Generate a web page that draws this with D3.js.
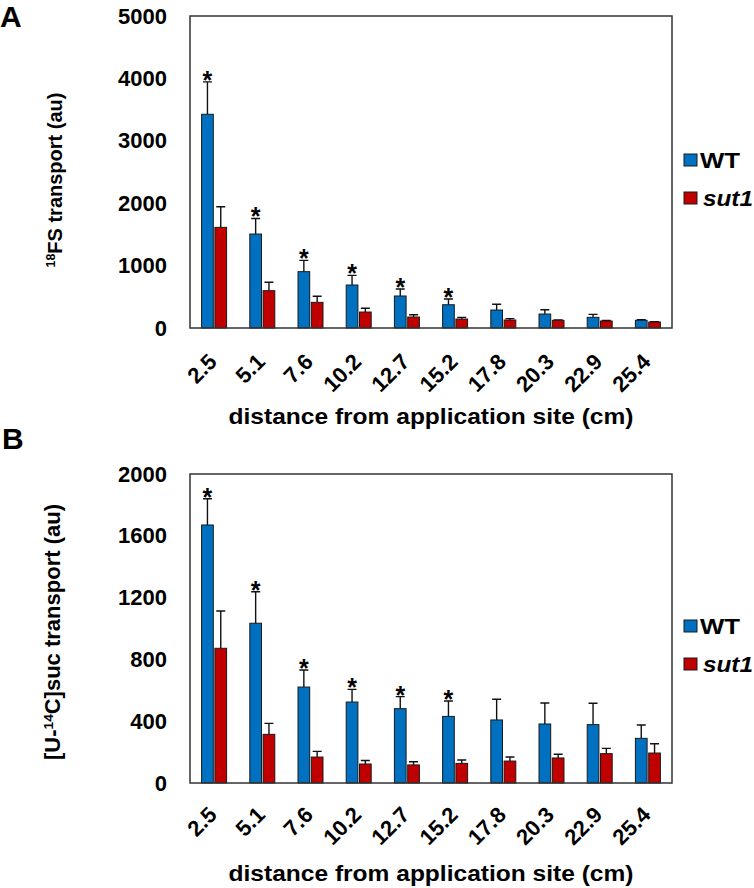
<!DOCTYPE html>
<html>
<head>
<meta charset="utf-8">
<script src="https://cdn.jsdelivr.net/npm/d3@7/dist/d3.min.js"></script>
<style>
  body { margin: 0; background: #fff; }
  svg { display: block; font-family: "Liberation Sans", Arial, sans-serif; }
</style>
</head>
<body>
<svg id="chart" width="754" height="888"></svg>
<script>
const categories = ["2.5","5.1","7.6","10.2","12.7","15.2","17.8","20.3","22.9","25.4"];
const seriesNames = ["WT", "sut1"];

const aWT      = [3425,1506,903,689,513,373,288,224,171,123];
const aWTErr   = [520,250,180,155,112,92,92,69,48,10];
const aSut1    = [1613,598,411,256,176,144,128,123,112,96];
const aSut1Err = [330,135,97,60,37,27,22,8,8,6];
const aSig     = [1,1,1,1,1,1,0,0,0,0];
const aTicks   = [0,1000,2000,3000,4000,5000];

const bWT      = [1670,1034,621,524,481,431,408,382,378,289];
const bWTErr   = [170,204,110,82,78,100,134,136,138,86];
const bSut1    = [872,315,168,123,117,127,142,162,190,194];
const bSut1Err = [241,71,37,23,21,22,26,24,34,60];
const bSig     = [1,1,1,1,1,1,0,0,0,0];
const bTicks   = [0,400,800,1200,1600,2000];

const colors = { WT: "#0070C0", sut1: "#C00000" };
const svg = d3.select("#chart");

function panel(o) {
  const g = svg.append("g");
  const x0 = d3.scaleBand().domain(categories).range([o.left, o.right]).paddingInner(0).paddingOuter(0);
  const x1 = d3.scaleBand().domain(seriesNames).range([0, x0.bandwidth()]).paddingInner(0.12).paddingOuter(0.872);
  const y = d3.scaleLinear().domain([0, o.ticks[o.ticks.length - 1]]).range([o.bottom, o.top]);

  const rows = categories.map((c, i) => ({
    c, i,
    vals: [
      { s: "WT", v: o.wt[i], e: o.wtErr[i] },
      { s: "sut1", v: o.sut1[i], e: o.sut1Err[i] }
    ]
  }));

  const grp = g.selectAll("g.cat").data(rows).join("g").attr("class", "cat")
    .attr("transform", d => `translate(${x0(d.c)},0)`);
  grp.selectAll("path.err").data(d => d.vals).join("path").attr("class", "err")
    .attr("d", d => {
      const cx = x1(d.s) + x1.bandwidth() / 2;
      return `M${cx},${y(d.v)}V${y(d.v + d.e)}M${cx - 4.5},${y(d.v + d.e)}H${cx + 4.5}`;
    })
    .attr("stroke", "#111").attr("stroke-width", 1.4).attr("fill", "none");
  grp.selectAll("rect").data(d => d.vals).join("rect")
    .attr("x", d => x1(d.s))
    .attr("width", x1.bandwidth())
    .attr("y", d => y(d.v))
    .attr("height", d => y(0) - y(d.v))
    .attr("fill", d => colors[d.s])
    .attr("stroke", "#1a1a1a").attr("stroke-width", 1);

  grp.filter(d => o.sig[d.i]).append("text")
    .attr("x", x1("WT") + x1.bandwidth() / 2)
    .attr("y", d => y(d.vals[0].v + d.vals[0].e) + 7)
    .attr("text-anchor", "middle")
    .attr("font-size", 25).attr("font-weight", "bold")
    .text("*");

  g.append("rect").attr("x", o.left).attr("y", o.top)
    .attr("width", o.right - o.left).attr("height", o.bottom - o.top)
    .attr("fill", "none").attr("stroke", "#333").attr("stroke-width", 1.5);

  const ya = g.append("g").attr("transform", `translate(${o.left},0)`)
    .call(d3.axisLeft(y).tickValues(o.ticks).tickSize(0).tickPadding(23).tickFormat(d3.format("d")));
  ya.select(".domain").remove();
  ya.selectAll("text").attr("font-size", 22).attr("font-weight", "bold").attr("fill", "#000")
    .attr("font-family", "'Liberation Sans', Arial, sans-serif");

  const xa = g.append("g").attr("transform", `translate(0,${o.bottom})`)
    .call(d3.axisBottom(x0).tickSize(0).tickPadding(0));
  xa.select(".domain").remove();
  xa.selectAll("text")
    .attr("font-size", 22).attr("font-weight", "bold").attr("fill", "#000")
    .attr("font-family", "'Liberation Sans', Arial, sans-serif")
    .attr("text-anchor", "end")
    .attr("dy", null).attr("y", null)
    .attr("transform", `translate(4,${o.xlabDy}) rotate(-45)`);

  g.append("text").attr("x", (o.left + o.right) / 2).attr("y", o.xTitleY)
    .attr("text-anchor", "middle").attr("font-size", 22).attr("font-weight", "bold")
    .attr("textLength", 405).attr("lengthAdjust", "spacingAndGlyphs")
    .text("distance from application site (cm)");

  const yt = g.append("text")
    .attr("transform", `translate(${o.yTitleX},${o.yTitleY}) rotate(-90)`)
    .attr("text-anchor", "middle").attr("font-size", o.yTitleSize).attr("font-weight", "bold");
  o.yTitle.forEach(p => {
    const t = yt.append("tspan").text(p.t);
    if (p.sup) t.attr("font-size", o.yTitleSize * 0.62).attr("baseline-shift", "super");
  });

  const lg = g.append("g");
  seriesNames.forEach((s, i) => {
    const ly = o.legendY + i * 38;
    lg.append("rect").attr("x", 684).attr("y", ly - 6).attr("width", 13).attr("height", 12)
      .attr("fill", colors[s]).attr("stroke", "#1a1a1a").attr("stroke-width", 1);
    lg.append("text").attr("x", i === 0 ? 700 : 703).attr("y", ly + 8)
      .attr("font-size", 22).attr("font-weight", "bold")
      .attr("font-style", s === "sut1" ? "italic" : "normal")
      .attr("textLength", i === 0 ? 40 : 50).attr("lengthAdjust", "spacingAndGlyphs")
      .text(s);
  });

  g.append("text").attr("x", o.letterX).attr("y", o.letterY)
    .attr("font-size", 30).attr("font-weight", "bold").text(o.letter);
}

panel({
  left: 190, right: 672, top: 16, bottom: 328,
  wt: aWT, wtErr: aWTErr, sut1: aSut1, sut1Err: aSut1Err, sig: aSig, ticks: aTicks,
  xlabDy: 35, xTitleY: 424,
  yTitleX: 62, yTitleY: 180, yTitleSize: 20,
  yTitle: [{ t: "18", sup: true }, { t: "FS transport (au)" }],
  legendY: 160, letter: "A", letterX: 0, letterY: 27
});

panel({
  left: 190, right: 672, top: 474, bottom: 783,
  wt: bWT, wtErr: bWTErr, sut1: bSut1, sut1Err: bSut1Err, sig: bSig, ticks: bTicks,
  xlabDy: 33, xTitleY: 881,
  yTitleX: 60, yTitleY: 632, yTitleSize: 22,
  yTitle: [{ t: "[U-" }, { t: "14", sup: true }, { t: "C]suc transport (au)" }],
  legendY: 626, letter: "B", letterX: 2, letterY: 449
});
</script>
</body>
</html>
